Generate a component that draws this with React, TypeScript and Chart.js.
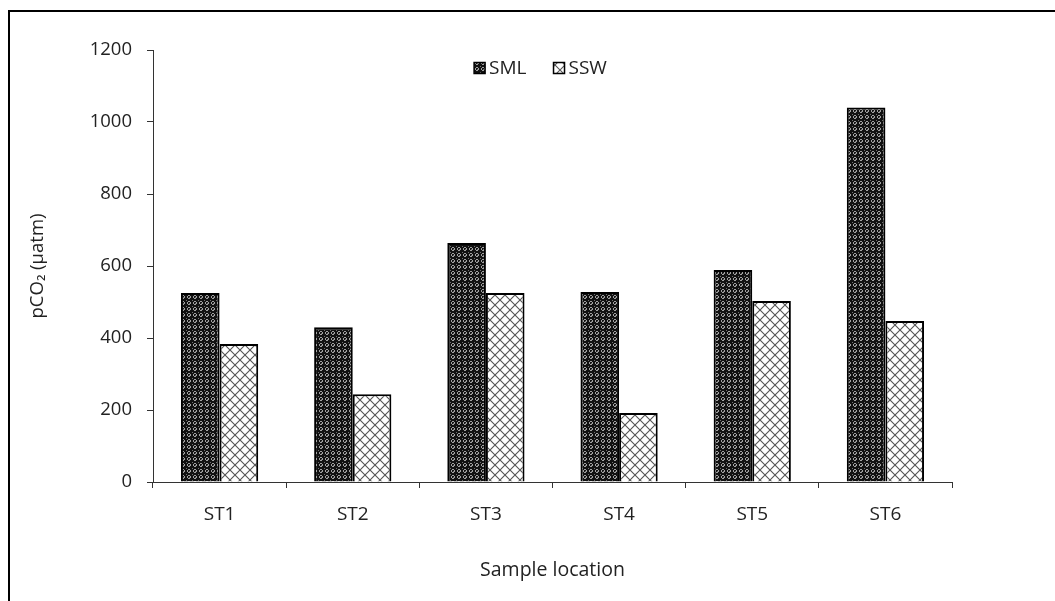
import React, { useEffect, useRef } from "react";
import { Chart, registerables } from "chart.js";

Chart.register(...registerables);

const categories = ["ST1", "ST2", "ST3", "ST4", "ST5", "ST6"];
const smlValues = [525, 430, 664, 528, 589, 1040];
const sswValues = [383, 244, 525, 192, 503, 447];
const seriesNames = ["SML", "SSW"];
const yTicks = [0, 200, 400, 600, 800, 1000, 1200];

const FONT = "'Open Sans'";

function makeSmlPattern(ctx: CanvasRenderingContext2D): CanvasPattern | string {
  const t = document.createElement("canvas");
  t.width = 6;
  t.height = 6;
  const c = t.getContext("2d")!;
  c.fillStyle = "#111";
  c.fillRect(0, 0, 6, 6);
  c.fillStyle = "#a0a0a0";
  c.fillRect(2, 1, 2, 1);
  c.fillRect(2, 4, 2, 1);
  c.fillRect(1, 2, 1, 2);
  c.fillRect(4, 2, 1, 2);
  c.fillStyle = "#707070";
  c.fillRect(0, 0, 1, 1);
  c.fillRect(3, 3, 1, 1);
  return ctx.createPattern(t, "repeat") || "#222";
}

function makeSswPattern(ctx: CanvasRenderingContext2D): CanvasPattern | string {
  const t = document.createElement("canvas");
  t.width = 10;
  t.height = 10;
  const c = t.getContext("2d")!;
  c.fillStyle = "#fff";
  c.fillRect(0, 0, 10, 10);
  c.strokeStyle = "#555";
  c.lineWidth = 1.1;
  c.beginPath();
  c.moveTo(-1, -1);
  c.lineTo(11, 11);
  c.moveTo(11, -1);
  c.lineTo(-1, 11);
  c.stroke();
  return ctx.createPattern(t, "repeat") || "#eee";
}

export default function App() {
  const ref = useRef<HTMLCanvasElement>(null);

  useEffect(() => {
    const canvas = ref.current!;
    const ctx = canvas.getContext("2d")!;
    const smlFill = makeSmlPattern(ctx);
    const sswFill = makeSswPattern(ctx);
    const fills = [smlFill, sswFill];

    const legendPlugin = {
      id: "innerLegend",
      afterDraw(chart: any) {
        const c = chart.ctx as CanvasRenderingContext2D;
        const area = chart.chartArea;
        c.save();
        c.font = `19px ${FONT}`;
        const box = 11;
        const gapText = 4;
        const gapItem = 27;
        const widths = seriesNames.map((n) => box + gapText + c.measureText(n).width);
        const total = widths.reduce((a, b) => a + b, 0) + gapItem * (seriesNames.length - 1);
        let x = (area.left + area.right) / 2 - total / 2 - 12;
        const y = area.top + 18;
        seriesNames.forEach((n, i) => {
          c.fillStyle = fills[i] as any;
          c.fillRect(x, y - box / 2, box, box);
          c.strokeStyle = "#000";
          c.lineWidth = 1.5;
          c.strokeRect(x, y - box / 2, box, box);
          c.fillStyle = "#222";
          c.textBaseline = "middle";
          c.textAlign = "left";
          c.fillText(n, x + box + gapText, y + 1);
          x += widths[i] + gapItem;
        });
        c.restore();
      },
    };

    const chart = new Chart(canvas, {
      type: "bar",
      data: {
        labels: categories,
        datasets: [
          {
            label: seriesNames[0],
            data: smlValues,
            backgroundColor: smlFill as any,
            borderColor: "#000",
            borderWidth: 2,
            categoryPercentage: 0.58,
            barPercentage: 1.0,
          },
          {
            label: seriesNames[1],
            data: sswValues,
            backgroundColor: sswFill as any,
            borderColor: "#000",
            borderWidth: 2,
            categoryPercentage: 0.58,
            barPercentage: 1.0,
          },
        ],
      },
      options: {
        animation: false,
        responsive: false,
        maintainAspectRatio: false,
        layout: { padding: { top: 50, right: 103, bottom: 0, left: 0 } },
        plugins: {
          legend: { display: false },
          tooltip: { enabled: false },
        },
        scales: {
          x: {
            grid: {
              display: true,
              drawOnChartArea: false,
              drawTicks: true,
              tickLength: 6,
              color: "#333",
              offset: true,
            },
            border: { display: true, color: "#333", width: 1 },
            ticks: {
              color: "#222",
              font: { family: FONT, size: 19 },
              padding: 15,
            },
            title: {
              display: true,
              text: "Sample location",
              color: "#222",
              font: { family: FONT, size: 19.5 },
              padding: { top: 20, bottom: 19 },
            },
            afterFit(scale: any) {
              scale.height = 119;
            },
          },
          y: {
            min: 0,
            max: 1200,
            afterBuildTicks(scale: any) {
              scale.ticks = yTicks.map((v) => ({ value: v }));
            },
            grid: {
              display: true,
              drawOnChartArea: false,
              drawTicks: true,
              tickLength: 6,
              color: "#333",
            },
            border: { display: true, color: "#333", width: 1 },
            ticks: {
              color: "#222",
              font: { family: FONT, size: 18.5 },
              padding: 15,
              callback: (v: any) => String(v),
            },
            title: {
              display: true,
              text: "pCO₂ (µatm)",
              color: "#222",
              font: { family: FONT, size: 18.5 },
              padding: { top: 27, bottom: 0 },
            },
            afterFit(scale: any) {
              scale.width = 153;
            },
          },
        },
      },
      plugins: [legendPlugin],
    });

    return () => chart.destroy();
  }, []);

  return (
    <div
      style={{
        position: "fixed",
        left: 0,
        top: 0,
        width: 1055,
        height: 601,
        background: "#fff",
        overflow: "hidden",
      }}
    >
      <div
        style={{
          position: "absolute",
          left: 8,
          top: 10,
          width: 1100,
          height: 700,
          borderLeft: "2px solid #000",
          borderTop: "2px solid #000",
        }}
      />
      <canvas
        ref={ref}
        width={1055}
        height={601}
        style={{ position: "absolute", left: 0, top: 0, width: 1055, height: 601 }}
      />
    </div>
  );
}
